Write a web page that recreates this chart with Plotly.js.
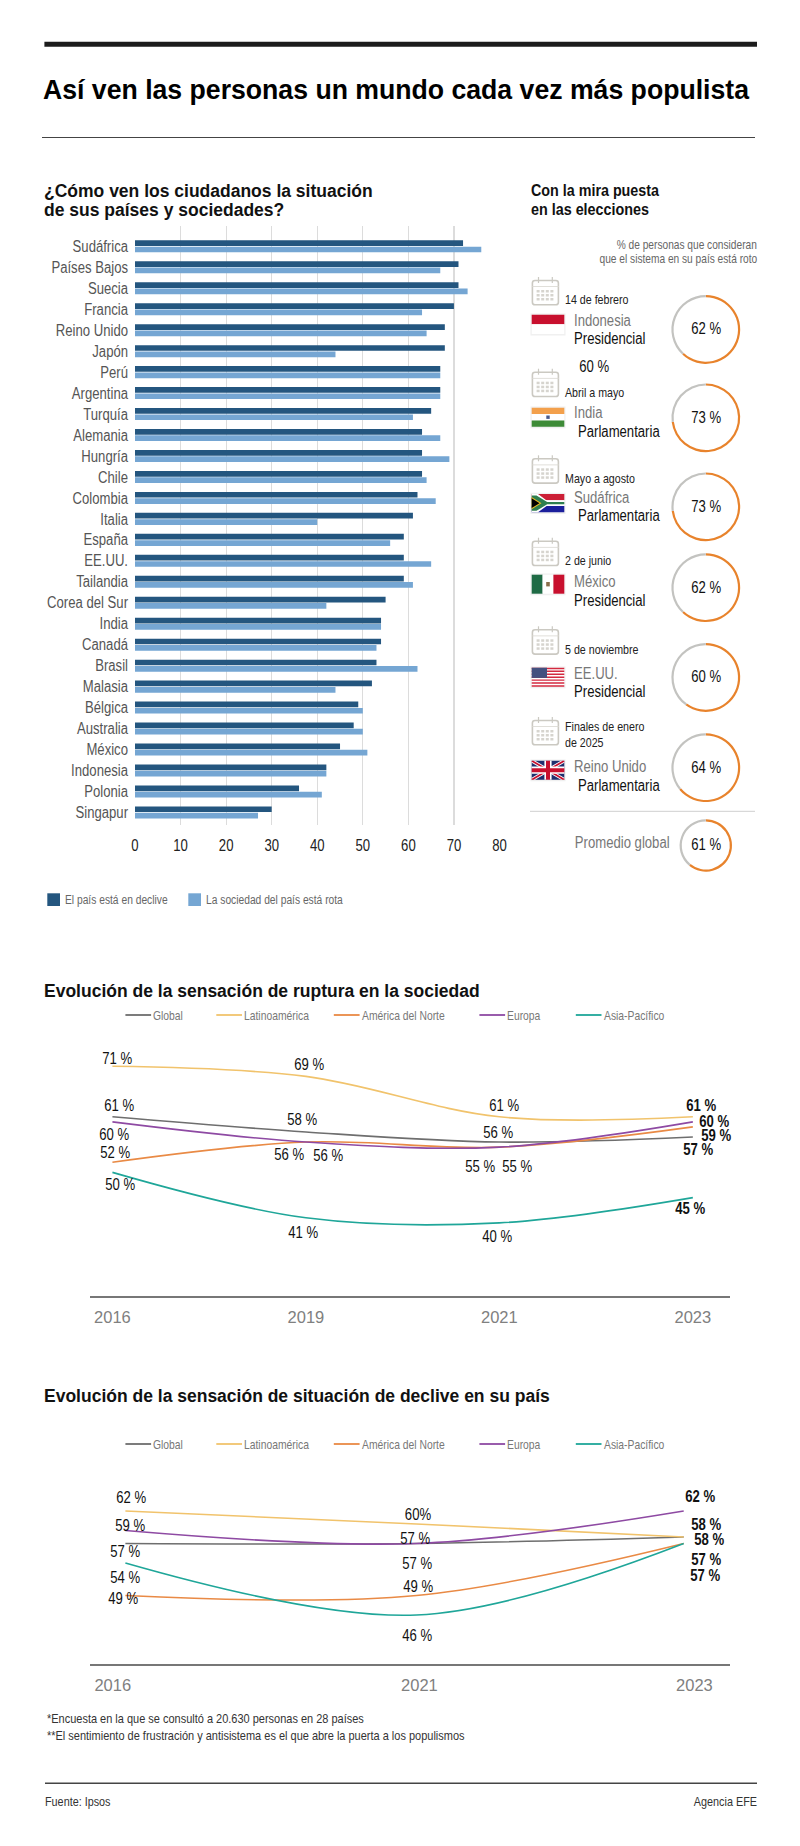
<!DOCTYPE html>
<html lang="es"><head><meta charset="utf-8">
<script src="https://cdn.plot.ly/plotly-3.0.1.min.js"></script>
<style>html,body{margin:0;padding:0;background:#fff}#c{width:800px;height:1846px}</style>
</head><body><div id="c"></div>
<script>
// ---------- data ----------
const countries = ["Sudáfrica","Países Bajos","Suecia","Francia","Reino Unido","Japón","Perú","Argentina","Turquía","Alemania","Hungría","Chile","Colombia","Italia","España","EE.UU.","Tailandia","Corea del Sur","India","Canadá","Brasil","Malasia","Bélgica","Australia","México","Indonesia","Polonia","Singapur"];
const enDeclive = [72,71,71,70,68,68,67,67,65,63,63,63,62,61,59,59,59,55,54,54,53,52,49,48,45,42,36,30];
const sociedadRota = [76,67,73,63,64,44,67,67,61,67,69,64,66,40,56,65,61,42,54,53,62,44,50,50,51,42,41,27];

const seriesNames = ["Global","Latinoamérica","América del Norte","Europa","Asia-Pacífico"];
const rupturaYears = ["2016","2019","2021","2023"];
const rupturaGlobal = [61,58,56,57];
const rupturaLatam = [71,69,61,61];
const rupturaNorte = [52,56,55,59];
const rupturaEuropa = [60,56,55,60];
const rupturaAsia = [50,41,40,45];

const declivePeriods = ["2016","2021","2023"];
const decliveGlobal = [57,57,58];
const decliveLatam = [62,60,58];
const decliveNorte = [49,49,57];
const decliveEuropa = [59,57,62];
const decliveAsia = [54,46,57];

const electionCountries = ["Indonesia","India","Sudáfrica","México","EE.UU.","Reino Unido"];
const electionTypes = ["Presidencial","Parlamentaria","Parlamentaria","Presidencial","Presidencial","Parlamentaria"];
const electionDates = ["14 de febrero","Abril a mayo","Mayo a agosto","2 de junio","5 de noviembre",null];
const electionPct = [62,73,73,62,60,64];
const globalAverage = 61;

// ---------- style ----------
const NARROW = "'Liberation Sans Narrow','Arial Narrow','Liberation Sans',sans-serif";
const SANS = "'Liberation Sans',Arial,sans-serif";
const DARK="#24567f", LIGHT="#75a6d3";
const ORANGE="#e8832c", RINGGRAY="#c3c3c0";
const COL={Global:"#6e6e6e",Latam:"#f1c36c",Norte:"#e98a45",Europa:"#8e4aa3",Asia:"#1fa699"};
const W=800,H=1846;
const px=x=>x/W, py=y=>1-y/H;

const ann=[], shp=[];
function text(t,x,y,o={}){ann.push({text:t,xref:"paper",yref:"paper",x:px(x),y:py(y),xanchor:o.a||"left",yanchor:"middle",showarrow:false,align:o.a||"left",font:{family:o.f||NARROW,size:o.s||14,color:o.c||"#111",weight:o.w||400},borderpad:0,borderwidth:0});}
function rect(x0,y0,x1,y1,c){shp.push({type:"rect",xref:"paper",yref:"paper",x0:px(x0),x1:px(x1),y0:py(y0),y1:py(y1),fillcolor:c,line:{width:0},layer:"above"});}
function hline(x0,x1,y,c,w){shp.push({type:"line",xref:"paper",yref:"paper",x0:px(x0),x1:px(x1),y0:py(y),y1:py(y),line:{color:c,width:w},layer:"above"});}
function poly(pts,c){const d=pts.map((p,i)=>(i?"L":"M")+px(p[0])+" "+py(p[1])).join(" ")+" Z";shp.push({type:"path",xref:"paper",yref:"paper",path:d,fillcolor:c,line:{width:0},layer:"above"});}
function roundBox(x0,y0,x1,y1,r,c,w){
  const P=(x,y)=>px(x)+" "+py(y);
  const d="M"+P(x0+r,y0)+" L"+P(x1-r,y0)+" Q"+P(x1,y0)+" "+P(x1,y0+r)+" L"+P(x1,y1-r)+" Q"+P(x1,y1)+" "+P(x1-r,y1)+" L"+P(x0+r,y1)+" Q"+P(x0,y1)+" "+P(x0,y1-r)+" L"+P(x0,y0+r)+" Q"+P(x0,y0)+" "+P(x0+r,y0)+" Z";
  shp.push({type:"path",xref:"paper",yref:"paper",path:d,fillcolor:"rgba(0,0,0,0)",line:{color:c,width:w},layer:"above"});
}

// ---------- furniture ----------
rect(44.4,41.7,757,46.7,"#1c1c1c");
hline(42,755,137.5,"#444",1);
hline(45,757,1783.3,"#444",1.5);
const mainTitle="Así ven las personas un mundo cada vez más populista";
text(mainTitle,43,90.5,{s:26,c:"#000",w:700});
// final widths (px) / sizes for the condensed strings that need their own
const targetWidth={};
const targetSize={};
targetWidth[mainTitle]=706; targetSize[mainTitle]=28.5;
targetWidth["Con la mira puesta"]=128;
targetWidth["en las elecciones"]=118;
text("¿Cómo ven los ciudadanos la situación",43.5,190.7,{f:SANS,s:17.5,w:700});
text("de sus países y sociedades?",43.5,210,{f:SANS,s:17.5,w:700});
text("Con la mira puesta",531,190.7,{s:16,w:700});
text("en las elecciones",531,210,{s:16,w:700});
text("% de personas que consideran",756.7,245.3,{a:"right",s:12.4,c:"#666"});
text("que el sistema en su país está roto",756.7,259.3,{a:"right",s:12.4,c:"#666"});

// bars legend
rect(47.3,893.3,60,906,DARK); text("El país está en declive",64.7,899.5,{s:12.5,c:"#666"});
rect(188.3,893.3,201,906,LIGHT); text("La sociedad del país está rota",205.7,899.5,{s:12.5,c:"#666"});

// calendars
const calTop=[280,371.7,458.3,540.7,629.3,720];
function calendar(y){
  const c="#cbc9c2";
  roundBox(532.4,y+0.5,558.4,y+24.8,2.6,c,1.6);
  rect(532,y+6.2,559,y+7,"#d9d7d1");
  rect(537.9,y-3,539.1,y+3,c);rect(551.7,y-3,552.9,y+3,c);
  for(let r=0;r<3;r++)for(let k=0;k<4;k++)rect(536.6+k*4.6,y+10+r*4,536.6+k*4.6+3,y+10+r*4+2.5,"#d6d4ce");
}
calTop.forEach(calendar);

// flags
const fx0=531.7,fx1=564.3;
function flagShadow(y0,y1){rect(fx0-1.2,y0-1.2,fx1+1.2,y1+1.6,"#f0f0f0");}
flagShadow(314.7,334);rect(fx0,314.7,fx1,324.3,"#c8102e");rect(fx0,324.3,fx1,334,"#ffffff");
flagShadow(407.7,426.7);rect(fx0,407.7,fx1,414,"#f3a04c");rect(fx0,414,fx1,420.4,"#ffffff");rect(fx0,420.4,fx1,426.7,"#3d8b37");rect(546.3,415.5,549.7,418.9,"#4a5a8c");
flagShadow(494,512.3);
rect(fx0,494,fx1,500.2,"#cc1f36");rect(fx0,506.1,fx1,512.3,"#1b1f9c");rect(fx0,500.2,fx1,506.1,"#ffffff");
poly([[fx0,494],[538,494],[548,501.4],[fx1,501.4],[fx1,504.9],[548,504.9],[538,512.3],[fx0,512.3]],"#ffffff");
poly([[fx0,495.5],[536.5,495.5],[547.2,502],[fx1,502],[fx1,504.3],[547.2,504.3],[536.5,510.8],[fx0,510.8]],"#2f7f4f");
poly([[fx0,497],[541.5,503.15],[fx0,509.3]],"#e8b923");
poly([[fx0,498.2],[539.5,503.15],[fx0,508.1]],"#000000");
flagShadow(574.7,593.7);rect(fx0,574.7,542.6,593.7,"#1f6b45");rect(542.6,574.7,553.4,593.7,"#ffffff");rect(553.4,574.7,fx1,593.7,"#c8102e");rect(546.2,582,549.8,586.4,"#8a6d4a");
flagShadow(667.7,686.7);
rect(fx0,667.7,fx1,686.7,"#ffffff");
for(let i=0;i<7;i++){const h=19/13;rect(fx0,667.7+i*2*h,fx1,667.7+i*2*h+h,"#d3293f");}
rect(fx0,667.7,547,677.9,"#44507f");
flagShadow(760.7,779.7);rect(fx0,760.7,fx1,779.7,"#1f2f6e");
poly([[fx0,760.7],[fx0+3.4,760.7],[fx1,777.7],[fx1,779.7],[fx1-3.4,779.7],[fx0,762.7]],"#ffffff");
poly([[fx1,760.7],[fx1-3.4,760.7],[fx0,777.7],[fx0,779.7],[fx0+3.4,779.7],[fx1,762.7]],"#ffffff");
poly([[fx0,760.7],[fx0+1.7,760.7],[fx1,778.7],[fx1,779.7],[fx1-1.7,779.7],[fx0,761.7]],"#c8102e");
poly([[fx1,760.7],[fx1-1.7,760.7],[fx0,778.7],[fx0,779.7],[fx0+1.7,779.7],[fx1,761.7]],"#c8102e");
rect(544.4,760.7,551.6,779.7,"#ffffff");rect(fx0,766.6,fx1,773.8,"#ffffff");
rect(546,760.7,550,779.7,"#c8102e");rect(fx0,768.2,fx1,772.2,"#c8102e");

// election texts
const dateY=[300,392,479,561,649.3,0];
const countryY=[320,412.7,497.3,582,673.3,766.7];
const typeY=[338.3,431.7,515,600.7,691.7,785.3];
const ringY=[329.5,417.8,506.8,587.7,677.5,767.7];
electionCountries.forEach((n,i)=>{
  const parl=electionTypes[i]==="Parlamentaria";
  if(electionDates[i]) text(electionDates[i],564.7,dateY[i],{s:13,c:"#222"});
  text(n,573.7,countryY[i],{s:16,c:"#777"});
  text(electionTypes[i],parl?577.7:573.7,typeY[i],{s:16,c:"#111"});
  text(electionPct[i]+" %",706.3,ringY[i]-.6,{a:"center",s:16,c:"#111"});
});
text("Finales de enero",564.7,726.7,{s:13,c:"#222"});
text("de 2025",564.7,742.3,{s:13,c:"#222"});
text("60 %",594,366.7,{a:"center",s:16,c:"#111"});
hline(530,755,811.3,"#cfcfcf",1);
text("Promedio global",670,842.7,{a:"right",s:16,c:"#777"});
text(globalAverage+" %",706.3,844.5,{a:"center",s:16,c:"#111"});

// line-chart legends and headings
text("Evolución de la sensación de ruptura en la sociedad",43.7,990.7,{f:SANS,s:17.5,w:700});
text("Evolución de la sensación de situación de declive en su país",43.7,1396,{f:SANS,s:17.5,w:700});
const legX=[[125.4,151.1],[216.3,242],[333.8,359.6],[479.4,505.1],[575.8,601.5]];
const legC=[COL.Global,COL.Latam,COL.Norte,COL.Europa,COL.Asia];
[1015,1444].forEach(y=>seriesNames.forEach((n,i)=>{
  hline(legX[i][0],legX[i][1],y,legC[i],1.8);
  text(n,legX[i][1]+2.3,y+1,{s:12.6,c:"#777"});
}));

// footers
text("*Encuesta en la que se consultó a 20.630 personas en 28 países",47.4,1718.7,{s:13.4,c:"#333"});
text("**El sentimiento de frustración y antisistema es el que abre la puerta a los populismos",47.4,1735,{s:13.4,c:"#333"});
text("Fuente: Ipsos",45,1801.3,{s:13.2,c:"#333"});
text("Agencia EFE",757,1801.3,{a:"right",s:13.2,c:"#333"});

// ---------- traces ----------
const traces=[
 {type:"bar",orientation:"h",name:"El país está en declive",y:countries,x:enDeclive,marker:{color:DARK,line:{width:0}},xaxis:"x",yaxis:"y"},
 {type:"bar",orientation:"h",name:"La sociedad del país está rota",y:countries,x:sociedadRota,marker:{color:LIGHT,line:{width:0}},xaxis:"x",yaxis:"y"}
];
function lineTrace(xs,ys,name,c,ax){return {type:"scatter",mode:"lines",name,x:xs,y:ys,line:{color:c,width:1.6,shape:"spline",smoothing:1},xaxis:"x"+ax,yaxis:"y"+ax,cliponaxis:false};}
const rupSeries=[rupturaGlobal,rupturaLatam,rupturaNorte,rupturaEuropa,rupturaAsia];
rupSeries.forEach((v,i)=>traces.push(lineTrace(rupturaYears,v,seriesNames[i],legC[i],2)));

// the third chart has its centre point slightly off the middle of the axis
const decPos=[0,0.5214,1];
const decSeries=[decliveGlobal,decliveLatam,decliveNorte,decliveEuropa,decliveAsia];
decSeries.forEach((v,i)=>traces.push(lineTrace(decPos,v,seriesNames[i],legC[i],3)));

// rings
function ring(v,cx,cy,r){
  traces.push({type:"pie",values:[v,100-v],labels:["a","b"],sort:false,direction:"clockwise",rotation:0,hole:1-2.2/r,textinfo:"none",hoverinfo:"skip",showlegend:false,
   marker:{colors:[ORANGE,RINGGRAY],line:{width:0}},domain:{x:[px(cx-r),px(cx+r)],y:[py(cy+r),py(cy-r)]}});
}
electionPct.forEach((v,i)=>ring(v,705.8,ringY[i],34.4));
ring(globalAverage,705.8,845.5,26.2);

// ---------- data labels ----------
function dataLabels(xs,vals,off,ax,isBoldLast){
  vals.forEach((v,k)=>{
    const last=k===vals.length-1;
    ann.push({xref:"x"+ax,yref:"y"+ax,x:xs[k],y:v,text:(off.custom&&off.custom[k]!=null?off.custom[k]:v+" %"),showarrow:false,xanchor:"center",yanchor:"middle",
      xshift:off.dx[k],yshift:-off.dy[k],font:{family:NARROW,size:16,color:"#111",weight:(last&&isBoldLast)?700:400}});
  });
}
const rupIdx=[0,1,2,3];
const rupOff=[
 {dx:[6.9,-3.8,-1.3,4.9],dy:[-11.8,-12,-9.3,12.3]},
 {dx:[4.6,2.6,5.1,7.7],dy:[-8,-12.4,-11.1,-11.5]},
 {dx:[2.3,21.9,18,23.3],dy:[-9.6,13,19.7,8.8]},
 {dx:[1.9,-17.1,-19.6,21.5],dy:[13.1,12.3,19,-0.6]},
 {dx:[7.8,-2.9,-2.7,-2.9],dy:[12.6,14.5,13.8,11.1]}
];
rupSeries.forEach((v,i)=>dataLabels(rupIdx,v,rupOff[i],2,true));
const decOff=[
 {dx:[-0.5,0,25.7],dy:[8.2,19.8,3]},
 {dx:[5.5,1.4,22.5],dy:[-13.7,-9.7,-12],custom:[null,"60%",null]},
 {dx:[-2.3,1.4,22.1],dy:[3.2,-8.8,15.8]},
 {dx:[5,-1.4,16.1],dy:[-5.2,-5.2,-14]},
 {dx:[-0.5,0,21.6],dy:[15,20.7,32.5]}
];
decSeries.forEach((v,i)=>dataLabels(decPos,v,decOff[i],3,true));

// ---------- layout ----------
const hidden={showgrid:false,zeroline:false,showticklabels:false,ticks:""};
const layout={
 width:W,height:H,margin:{l:0,r:0,t:0,b:0,pad:0},paper_bgcolor:"#fff",plot_bgcolor:"rgba(0,0,0,0)",showlegend:false,
 barmode:"group",bargap:0.395,bargroupgap:0.1,font:{family:NARROW},
 xaxis:{domain:[px(135),px(499.5)],range:[0,80],dtick:10,tick0:0,showgrid:true,gridcolor:"#dcdcdc",gridwidth:1.2,zeroline:false,showline:false,ticks:"",ticklabelstandoff:9,tickfont:{family:NARROW,size:16,color:"#222"},anchor:"y"},
 yaxis:{domain:[py(825),py(226)],type:"category",categoryorder:"array",categoryarray:countries,range:[27.6,-0.97],showgrid:false,zeroline:false,showline:false,ticks:"",ticklabelstandoff:6,tickfont:{family:NARROW,size:16,color:"#555"},anchor:"x",tickmode:"array",tickvals:countries,ticktext:countries},
 xaxis2:{domain:[px(89.6),px(730)],type:"category",categoryorder:"array",categoryarray:rupturaYears,range:[-0.118,3.192],anchor:"y2",showgrid:false,zeroline:false,showline:true,linecolor:"#777",linewidth:1.2,ticks:"",ticklabelstandoff:6,tickfont:{family:SANS,size:16.5,color:"#808080"}},
 yaxis2:{domain:[py(1296.3),py(1030)],range:[25.46,78.19],anchor:"x2",...hidden},
 xaxis3:{domain:[px(89.6),px(730)],type:"linear",range:[-0.0641,1.0829],tickmode:"array",tickvals:[-0.0226,0.5266,1.0192],ticktext:declivePeriods,anchor:"y3",showgrid:false,zeroline:false,showline:true,linecolor:"#777",linewidth:1.2,ticks:"",ticklabelstandoff:6,tickfont:{family:SANS,size:16.5,color:"#808080"}},
 yaxis3:{domain:[py(1664.3),py(1470)],range:[38.42,68.3],anchor:"x3",...hidden},
 annotations:ann,shapes:shp
};
// no condensed face is installed: condense the glyphs of the narrow texts
const NARROW_FACTOR=0.82;
function condense(){
  document.querySelectorAll("#c svg text").forEach(t=>{
    if(!/Narrow/.test(t.style.fontFamily)) return;
    const key=t.textContent;
    if(targetSize[key]) t.style.fontSize=targetSize[key]+"px";
    const w=t.getComputedTextLength();
    if(!w) return;
    const target=targetWidth[key]||w*NARROW_FACTOR;
    t.setAttribute("textLength",target.toFixed(1));
    t.setAttribute("lengthAdjust","spacingAndGlyphs");
  });
}
Plotly.newPlot("c",traces,layout,{displayModeBar:false,staticPlot:true}).then(condense);
</script></body></html>
